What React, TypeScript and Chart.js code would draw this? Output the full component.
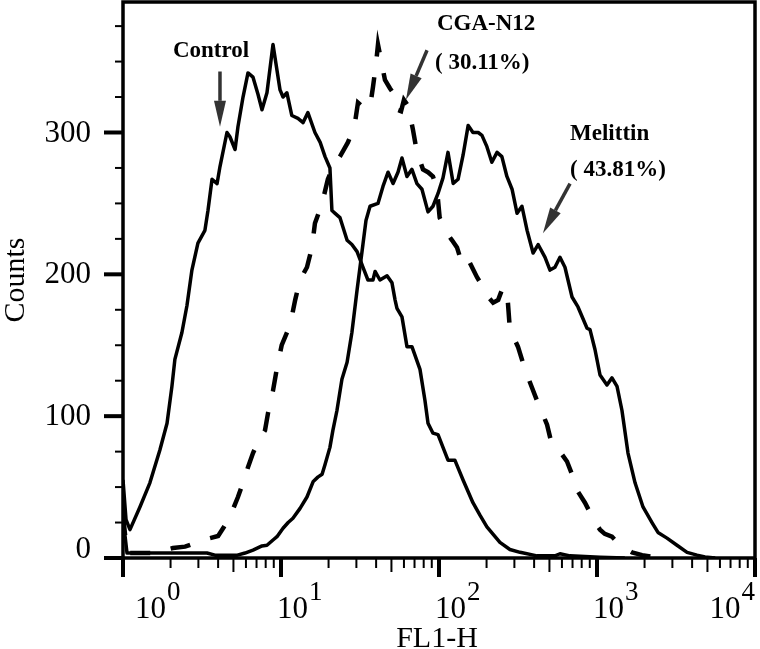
import React, { useEffect, useRef } from 'react';
import { Chart, registerables } from 'chart.js';

Chart.register(...registerables);

// ---- Data (FL1-H intensity vs counts) ----
const controlX = [1.0, 1.045, 1.107, 1.28, 1.48, 1.71, 1.9, 2.04, 2.13, 2.36, 2.54, 2.73, 2.98, 3.3, 3.45, 3.66, 3.94, 4.11, 4.55, 4.75, 5.12, 5.34, 5.75, 6.18, 6.65, 7.15, 7.58, 8.15, 8.9, 9.86, 10.3, 10.9, 11.7, 12.8, 13.8, 14.8, 16.4, 17.7, 19.0, 20.4, 21.0, 22.0, 23.6, 26.2, 28.1, 30.3, 33.0, 35.5, 38.2, 39.4, 42.3, 46.9, 50.4, 52.7, 54.2, 58.3, 62.7, 67.4, 75.8, 81.5, 85.2, 91.6, 98.6, 106, 114, 126, 142, 164, 182, 201, 243, 281, 326, 417, 542, 583, 675, 1045, 1500];
const controlY = [55, 27, 20, 36, 53, 76, 95, 121, 140, 159, 178, 203, 222, 231, 245, 267, 264, 276, 300, 297, 288, 304, 325, 342, 339, 327, 316, 328, 362, 330, 325, 328, 312, 310, 307, 314, 300, 293, 283, 275, 245, 243, 240, 224, 221, 216, 205, 196, 196, 202, 196, 199, 194, 182, 176, 170, 149, 149, 133, 111, 95, 88, 87, 78, 69, 69, 55, 39, 30, 22, 11, 6, 4, 1.5, 1.5, 3, 1.5, 0.5, 0];

const cgaX = [1.0, 1.06, 1.28, 1.55, 1.84, 2.07, 2.47, 2.94, 3.55, 4.0, 4.36, 4.75, 5.34, 5.83, 6.18, 6.65, 7.24, 7.92, 8.27, 8.9, 9.43, 10.1, 11.4, 12.3, 12.8, 13.8, 14.6, 15.7, 16.4, 18.2, 19.8, 21.6, 23.6, 26.5, 28.1, 29.4, 30.7, 33.6, 36.6, 38.2, 39.9, 41.1, 43.0, 45.5, 49.0, 51.2, 54.2, 57.5, 60.0, 63.6, 68.4, 72.5, 79.2, 85.2, 91.6, 97.1, 101, 112, 121, 130, 142, 157, 174, 190, 205, 220, 237, 254, 273, 281, 316, 350, 388, 417, 436, 483, 510, 542, 583, 646, 695, 726, 839, 903, 971, 1045, 1120, 1244, 1400, 1666, 1930, 2261, 2700];
const cgaY = [30, 3.5, 3.5, 3.5, 5.6, 7, 8, 11, 14, 15.5, 22, 29, 43, 55, 64, 74, 83, 90, 102, 118, 134, 150, 164, 182, 190, 200, 205, 219, 236, 250, 267, 277, 283, 293, 300, 307, 321, 317, 318, 332, 348, 362, 351, 337, 331, 328, 316, 315, 323, 319, 302, 286, 274, 272, 269, 260, 240, 229, 224, 219, 205, 208, 198, 191, 184, 180, 182, 191, 180, 161, 149, 133, 120, 111, 106, 94, 83, 78, 75, 68, 59, 50, 39, 32, 25, 20, 17, 15, 9, 4, 2, 0.7, 0];

const melittinX = [1.0, 1.06, 3.4, 3.82, 5.3, 5.92, 6.65, 7.58, 8.15, 8.9, 9.43, 10.3, 11.1, 11.9, 13.2, 14.6, 16.0, 17.1, 18.2, 19.0, 20.4, 21.3, 22.6, 24.3, 26.2, 28.1, 30.3, 33.0, 34.5, 36.6, 41.1, 44.2, 47.6, 51.2, 55.0, 58.3, 62.7, 67.4, 72.5, 78.0, 85.2, 91.6, 98.6, 106, 114, 123, 132, 142, 153, 164, 177, 187, 201, 216, 233, 250, 269, 290, 312, 335, 361, 394, 424, 469, 504, 542, 583, 627, 695, 758, 865, 903, 971, 1045, 1156, 1244, 1339, 1439, 1571, 1741, 1955, 2229, 2432, 2773, 3208, 3715, 4296, 4827, 5600];
const melittinY = [28, 3.5, 3.5, 2, 2, 3.5, 5.6, 8.5, 9, 12.7, 15, 21, 25, 28, 35, 43, 54, 57, 59, 66, 78, 90, 104, 126, 138, 159, 189, 221, 238, 248, 250, 262, 272, 264, 272, 282, 269, 274, 264, 260, 244, 248, 257, 268, 286, 264, 267, 284, 305, 300, 300, 298, 290, 279, 286, 283, 269, 260, 243, 248, 231, 215, 221, 212, 203, 205, 212, 205, 184, 177, 162, 161, 147, 129, 122, 127, 121, 104, 74, 53, 36, 25, 18, 14, 9, 4, 2, 0.7, 0];

// ---- Axes ----
const xMin = 1;
const xMax = 10000;
const xDecades = [1, 10, 100, 1000, 10000];
const xDecadeExponents = ['0', '1', '2', '3', '4'];
const yMin = 0;
const yMax = 392;
const yTickValues = [0, 100, 200, 300];
const yTickLabels = ['0', '100', '200', '300'];
const yMinorStep = 25;
const xTitle = 'FL1-H';
const yTitle = 'Counts';

// ---- Annotations (data coordinates) ----
const labelTexts = [
  { text: 'Control', x: 2.07, y: 353 },
  { text: 'CGA-N12', x: 97, y: 372 },
  { text: '( 30.11%)', x: 94.3, y: 345 },
  { text: 'Melittin', x: 675, y: 295 },
  { text: '( 43.81%)', x: 675, y: 269 },
];
const arrows = [
  { fromX: 4.11, fromY: 343, toX: 4.11, toY: 304 },
  { fromX: 84, fromY: 358, toX: 61.8, toY: 323 },
  { fromX: 675, fromY: 264, toX: 455, toY: 229 },
];

const SERIF = '"Liberation Serif", "Times New Roman", serif';

const toPoints = (xs: number[], ys: number[]) => xs.map((x, i) => ({ x, y: ys[i] }));

const decorPlugin = {
  id: 'decor',
  afterDatasetsDraw(chart: any) {
    const { ctx, chartArea: a, scales } = chart;
    const xs = scales.x;
    const ys = scales.y;
    ctx.save();
    ctx.strokeStyle = '#000';
    ctx.fillStyle = '#000';
    ctx.lineCap = 'butt';

    // frame
    ctx.lineWidth = 3.5;
    ctx.strokeRect(a.left, a.top, a.right - a.left, a.bottom - a.top);

    // y ticks
    for (let v = yMin; v <= yMax; v += yMinorStep) {
      const py = ys.getPixelForValue(v);
      const major = yTickValues.includes(v);
      ctx.lineWidth = major ? 4 : 2;
      ctx.beginPath();
      ctx.moveTo(a.left - (major ? 19 : 8), py);
      ctx.lineTo(a.left, py);
      ctx.stroke();
    }
    // y labels
    ctx.font = `31px ${SERIF}`;
    ctx.textAlign = 'right';
    ctx.textBaseline = 'middle';
    yTickValues.forEach((v, i) => {
      const py = ys.getPixelForValue(v);
      const yy = Math.min(py + 1, a.bottom - 8);
      ctx.fillText(yTickLabels[i], a.left - 32, yy);
    });

    // x ticks
    xDecades.forEach((base, d) => {
      const px = xs.getPixelForValue(base);
      ctx.lineWidth = 4;
      ctx.beginPath();
      ctx.moveTo(px, a.bottom);
      ctx.lineTo(px, a.bottom + 19);
      ctx.stroke();
      if (d < xDecades.length - 1) {
        for (let m = 2; m <= 9; m++) {
          const mx = xs.getPixelForValue(base * m);
          ctx.lineWidth = 2;
          ctx.beginPath();
          ctx.moveTo(mx, a.bottom);
          ctx.lineTo(mx, a.bottom + (m === 5 ? 14 : 10));
          ctx.stroke();
        }
      }
    });
    // x labels: 10^n
    ctx.textAlign = 'left';
    ctx.textBaseline = 'alphabetic';
    xDecades.forEach((base, d) => {
      const px = xs.getPixelForValue(base);
      ctx.font = `31px ${SERIF}`;
      const wBase = ctx.measureText('10').width;
      ctx.font = `27px ${SERIF}`;
      const wSup = ctx.measureText(xDecadeExponents[d]).width;
      const w = wBase + 1 + wSup;
      let start = px - 4;
      start = Math.max(start, a.left + 12);
      start = Math.min(start, a.right - w);
      ctx.font = `31px ${SERIF}`;
      ctx.fillText('10', start, a.bottom + 60);
      ctx.font = `27px ${SERIF}`;
      ctx.fillText(xDecadeExponents[d], start + wBase + 1, a.bottom + 42);
    });

    // axis titles
    ctx.font = `30px ${SERIF}`;
    ctx.textAlign = 'center';
    ctx.textBaseline = 'alphabetic';
    ctx.fillText(xTitle, (a.left + a.right) / 2 - 2, a.bottom + 89);
    ctx.save();
    ctx.translate(24, (a.top + a.bottom) / 2);
    ctx.rotate(-Math.PI / 2);
    ctx.fillText(yTitle, 0, 0);
    ctx.restore();

    // annotation texts
    ctx.font = `bold 23px ${SERIF}`;
    ctx.textAlign = 'left';
    labelTexts.forEach((l) => {
      ctx.fillText(l.text, xs.getPixelForValue(l.x), ys.getPixelForValue(l.y));
    });

    // arrows
    ctx.strokeStyle = '#333';
    ctx.fillStyle = '#333';
    arrows.forEach((ar) => {
      const x1 = xs.getPixelForValue(ar.fromX);
      const y1 = ys.getPixelForValue(ar.fromY);
      const x2 = xs.getPixelForValue(ar.toX);
      const y2 = ys.getPixelForValue(ar.toY);
      const ang = Math.atan2(y2 - y1, x2 - x1);
      const headLen = 26;
      const halfW = 6;
      const bx = x2 - headLen * Math.cos(ang);
      const by = y2 - headLen * Math.sin(ang);
      ctx.lineWidth = 3.5;
      ctx.beginPath();
      ctx.moveTo(x1, y1);
      ctx.lineTo(bx, by);
      ctx.stroke();
      ctx.beginPath();
      ctx.moveTo(x2, y2);
      ctx.lineTo(bx + halfW * Math.sin(ang), by - halfW * Math.cos(ang));
      ctx.lineTo(bx - halfW * Math.sin(ang), by + halfW * Math.cos(ang));
      ctx.closePath();
      ctx.fill();
    });

    ctx.restore();
  },
};

export default function App() {
  const canvasRef = useRef<HTMLCanvasElement | null>(null);

  useEffect(() => {
    document.body.style.margin = '0';
    document.body.style.background = '#fff';
    const canvas = canvasRef.current;
    if (!canvas) return;
    const chart = new Chart(canvas, {
      type: 'line',
      data: {
        datasets: [
          {
            label: 'Control',
            data: toPoints(controlX, controlY),
            borderColor: '#000',
            borderWidth: 3.5,
            pointRadius: 0,
            tension: 0,
            fill: false,
            borderJoinStyle: 'round',
          },
          {
            label: 'CGA-N12',
            data: toPoints(cgaX, cgaY),
            borderColor: '#000',
            borderWidth: 4.5,
            borderDash: [20, 21],
            pointRadius: 0,
            tension: 0,
            fill: false,
          },
          {
            label: 'Melittin',
            data: toPoints(melittinX, melittinY),
            borderColor: '#000',
            borderWidth: 3.5,
            pointRadius: 0,
            tension: 0,
            fill: false,
            borderJoinStyle: 'round',
          },
        ],
      },
      options: {
        responsive: false,
        devicePixelRatio: 1,
        animation: false,
        events: [],
        layout: { padding: { left: 123, right: 5, top: 2, bottom: 91 } },
        plugins: {
          legend: { display: false },
          tooltip: { enabled: false },
          title: { display: false },
        },
        scales: {
          x: { type: 'logarithmic', min: xMin, max: xMax, display: false },
          y: { type: 'linear', min: yMin, max: yMax, display: false },
        },
      },
      plugins: [decorPlugin],
    });
    return () => chart.destroy();
  }, []);

  return (
    <div style={{ width: 760, height: 649, background: '#fff' }}>
      <canvas ref={canvasRef} width={760} height={649} style={{ display: 'block' }} />
    </div>
  );
}
